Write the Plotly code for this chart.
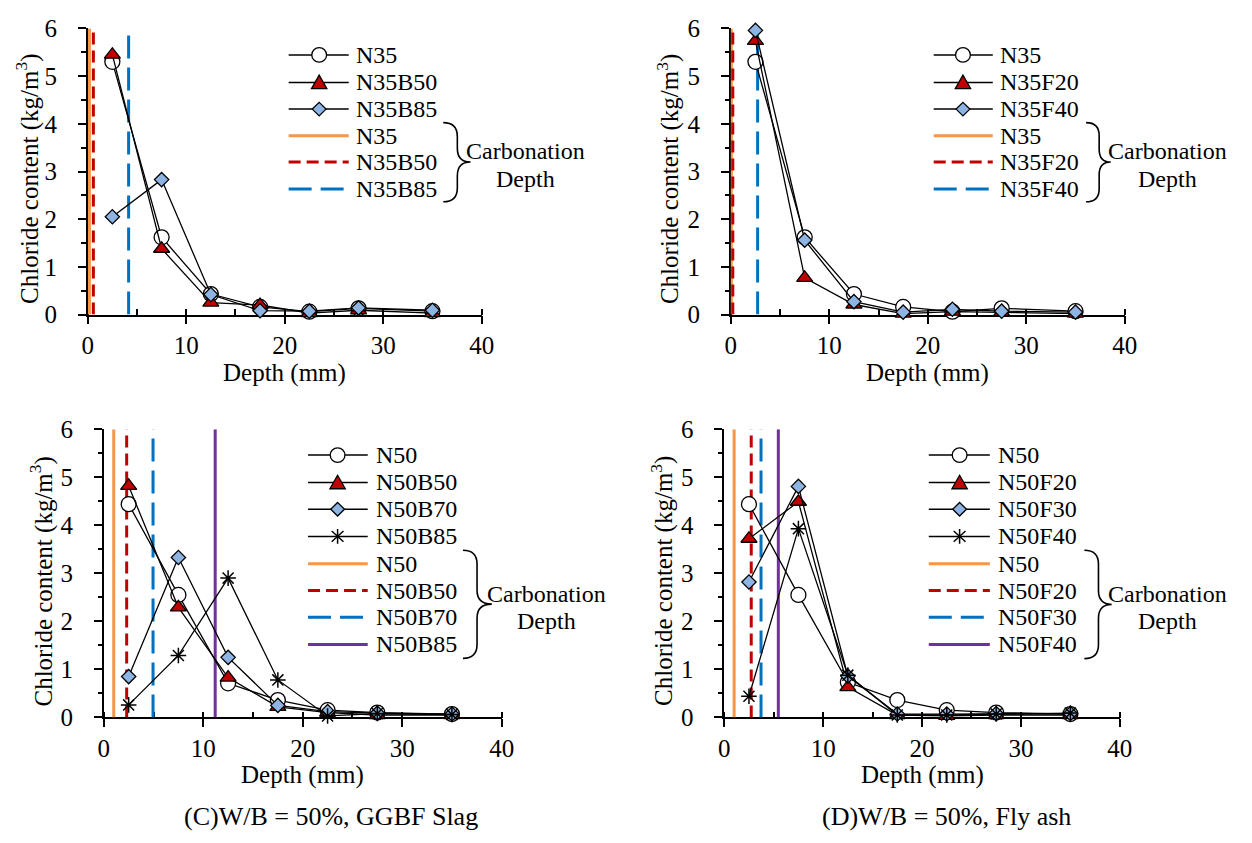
import plotly.graph_objects as go

W, H = 1252, 843
FONT = "Liberation Serif, Times New Roman, serif"

# ---------------- data ----------------
depth = [2.5, 7.5, 12.5, 17.5, 22.5, 27.5, 35.0]

# (A) W/B = 35%, slag
a_N35 = [5.30, 1.62, 0.43, 0.16, 0.06, 0.13, 0.07]
a_N35B50 = [5.45, 1.38, 0.25, 0.20, 0.03, 0.09, 0.03]
a_N35B85 = [2.05, 2.83, 0.42, 0.08, 0.07, 0.14, 0.09]
a_carb = [0.17, 0.57, 4.15]

# (B) W/B = 35%, fly ash
b_N35 = [5.30, 1.62, 0.43, 0.16, 0.06, 0.13, 0.07]
b_N35F20 = [5.74, 0.77, 0.21, 0.02, 0.06, 0.05, 0.02]
b_N35F40 = [5.96, 1.56, 0.27, 0.05, 0.11, 0.07, 0.05]
b_carb = [0.05, 0.2, 2.72]

# (C) W/B = 50%, GGBF slag
c_N50 = [4.44, 2.55, 0.71, 0.36, 0.15, 0.10, 0.07]
c_N50B50 = [4.82, 2.29, 0.83, 0.22, 0.10, 0.05, 0.05]
c_N50B70 = [0.85, 3.33, 1.25, 0.25, 0.12, 0.09, 0.07]
c_N50B85 = [0.26, 1.29, 2.90, 0.78, 0.03, 0.08, 0.06]
c_carb = [1.0, 2.3, 4.95, 11.2]

# (D) W/B = 50%, fly ash
d_N50 = [4.44, 2.55, 0.73, 0.36, 0.15, 0.10, 0.07]
d_N50F20 = [3.72, 4.49, 0.63, 0.05, 0.03, 0.05, 0.05]
d_N50F30 = [2.82, 4.81, 0.86, 0.07, 0.07, 0.08, 0.08]
d_N50F40 = [0.44, 3.93, 0.88, 0.05, 0.05, 0.07, 0.09]
d_carb = [1.0, 2.73, 3.72, 5.47]

a_names = ["N35", "N35B50", "N35B85"]
b_names = ["N35", "N35F20", "N35F40"]
c_names = ["N50", "N50B50", "N50B70", "N50B85"]
d_names = ["N50", "N50F20", "N50F30", "N50F40"]

x_ticks = [0, 10, 20, 30, 40]
y_ticks = [0, 1, 2, 3, 4, 5, 6]

captions = ["", "", "(C)W/B = 50%, GGBF Slag", "(D)W/B = 50%, Fly ash"]

# ---------------- styles ----------------
RED = "#C00000"
BLUE_FILL = "#8EB4E3"
ORANGE = "#F79646"
BLUE = "#0070C0"
PURPLE = "#7030A0"

series_style = [
    dict(kind="circle", symbol="circle", size=15, color="white"),
    dict(kind="triangle", symbol="triangle-up", size=14, color=RED),
    dict(kind="diamond", symbol="diamond", size=11, color=BLUE_FILL),
    dict(kind="asterisk", symbol="asterisk-open", size=13, color="black"),
]
carb_style = [
    dict(color=ORANGE, dash="solid"),
    dict(color=RED, dash="12px,6px"),
    dict(color=BLUE, dash="23px,9px"),
    dict(color=PURPLE, dash="solid"),
]


def px(x):
    return x / W


def py(y):
    return 1 - y / H


panels = [
    dict(series=[a_N35, a_N35B50, a_N35B85], names=a_names, carb=a_carb,
         xd=(83, 483), yd=(16, 311.5),
         leg=dict(l0=287, l1=348, mx=318, tx=353, rows=[43.3, 71.7, 99.3, 126.7, 154, 181.7],
                  bx=(444, 458.3, 471.7), by=(113.3, 195, 154), ct=(527, 143, 171))),
    dict(series=[b_N35, b_N35F20, b_N35F40], names=b_names, carb=b_carb,
         xd=(736, 1136), yd=(16, 311.5),
         leg=dict(l0=942, l1=1002, mx=971.7, tx=1007, rows=[43.3, 71.7, 99.3, 126.7, 154, 181.7],
                  bx=(1096.7, 1110, 1121.7), by=(113.3, 195, 154), ct=(1179, 143, 171))),
    dict(series=[c_N50, c_N50B50, c_N50B70, c_N50B85], names=c_names, carb=c_carb,
         xd=(99.3, 503.3), yd=(430, 727.7),
         leg=dict(l0=306.7, l1=367.3, mx=336.7, tx=374,
                  rows=[456.7, 485, 512.7, 540.7, 569, 596.7, 624.3, 652.3],
                  bx=(464, 478.3, 493.3), by=(555, 666.7, 610.7), ct=(549, 600, 628.5))),
    dict(series=[d_N50, d_N50F20, d_N50F30, d_N50F40], names=d_names, carb=d_carb,
         xd=(729.3, 1131), yd=(430, 727.7),
         leg=dict(l0=937, l1=999, mx=968.3, tx=1005,
                  rows=[456.7, 485, 512.7, 540.7, 569, 596.7, 624.3, 652.3],
                  bx=(1095, 1109.3, 1122.7), by=(555, 667, 611), ct=(1179, 600, 628.5))),
]

fig = go.Figure()
shapes = []
annotations = []
layout_axes = {}


def P(x, y):
    return f"{px(x):.5f},{py(y):.5f}"


def marker_shape(kind, cx, cy, fill):
    base = dict(xref="paper", yref="paper", layer="above")
    if kind == "circle":
        r = 7.5
        return [dict(type="circle", x0=px(cx - r), x1=px(cx + r), y0=py(cy + r), y1=py(cy - r),
                     fillcolor="white", line=dict(color="black", width=1.3), **base)]
    if kind == "triangle":
        path = f"M{P(cx, cy - 7.5)} L{P(cx + 7.8, cy + 6.5)} L{P(cx - 7.8, cy + 6.5)} Z"
        return [dict(type="path", path=path, fillcolor=fill, line=dict(color="black", width=1.3), **base)]
    if kind == "diamond":
        r = 7
        path = f"M{P(cx, cy - r)} L{P(cx + r, cy)} L{P(cx, cy + r)} L{P(cx - r, cy)} Z"
        return [dict(type="path", path=path, fillcolor=fill, line=dict(color="black", width=1.3), **base)]
    # asterisk
    path = (f"M{P(cx, cy - 7.5)} L{P(cx, cy + 7.5)} "
            f"M{P(cx - 6, cy - 5.5)} L{P(cx + 6, cy + 5.5)} "
            f"M{P(cx - 6, cy + 5.5)} L{P(cx + 6, cy - 5.5)}")
    return [dict(type="path", path=path, line=dict(color="black", width=1.5), **base)]


for i, p in enumerate(panels):
    k = "" if i == 0 else str(i + 1)
    xa, ya = "x" + k, "y" + k

    # carbonation depth lines
    for j, d in enumerate(p["carb"]):
        st = carb_style[j]
        fig.add_trace(go.Scatter(
            x=[d, d], y=[0, 6], mode="lines", xaxis=xa, yaxis=ya, showlegend=False,
            cliponaxis=False,
            line=dict(color=st["color"], width=3, dash=st["dash"]), hoverinfo="skip"))

    # chloride series
    for j, vals in enumerate(p["series"]):
        st = series_style[j]
        mk = dict(symbol=st["symbol"], size=st["size"], color=st["color"],
                  line=dict(color="black", width=1.3))
        if st["kind"] == "asterisk":
            mk = dict(symbol=st["symbol"], size=st["size"], color="black",
                      line=dict(color="black", width=1.5))
        fig.add_trace(go.Scatter(
            x=depth, y=vals, mode="lines+markers", xaxis=xa, yaxis=ya, name=p["names"][j],
            showlegend=False, cliponaxis=False,
            line=dict(color="black", width=1.3), marker=mk))

    x0, x1 = p["xd"]
    y0, y1 = p["yd"]
    layout_axes["xaxis" + k] = dict(
        domain=[px(x0), px(x1)], range=[0, 40], anchor=ya, layer="below traces",
        tickvals=x_ticks, ticks="outside", ticklen=8, tickwidth=1.5, tickcolor="black",
        showline=True, linecolor="black", linewidth=1.5, showgrid=False, zeroline=False,
        tickfont=dict(family=FONT, size=25, color="black"), ticklabelstandoff=0,
        minor=dict(ticks="inside", ticklen=6, dtick=5, tick0=0, tickwidth=1.5,
                   tickcolor="black", showgrid=False),
        fixedrange=True)
    layout_axes["yaxis" + k] = dict(
        domain=[py(y1), py(y0)], range=[0, 6], anchor=xa, layer="below traces",
        tickvals=y_ticks, ticks="outside", ticklen=8, tickwidth=1.5, tickcolor="black",
        showline=True, linecolor="black", linewidth=1.5, showgrid=False, zeroline=False,
        tickfont=dict(family=FONT, size=25, color="black"), ticklabelstandoff=16,
        minor=dict(ticks="outside", ticklen=4.5, dtick=0.5, tick0=0, tickwidth=1.5,
                   tickcolor="black", showgrid=False),
        fixedrange=True)

    # axis titles
    xc = (x0 + x1) / 2
    annotations.append(dict(text="Depth (mm)", x=px(xc), y=py(y1 + 60), xref="paper", yref="paper",
                            xanchor="center", yanchor="middle", showarrow=False,
                            font=dict(family=FONT, size=25, color="black")))
    ytx = [22, 672, 36, 666][i]
    annotations.append(dict(text="Chloride content (kg/m<sup>3</sup>)", x=px(ytx),
                            y=py((y0 + y1) / 2 + 8), xref="paper", yref="paper", textangle=-90,
                            xanchor="center", yanchor="middle", showarrow=False,
                            font=dict(family=FONT, size=25, color="black")))
    if captions[i]:
        cx = [0, 0, 330, 955][i]
        annotations.append(dict(text=captions[i], x=px(cx), y=py(830), xref="paper", yref="paper",
                                xanchor="center", yanchor="middle", showarrow=False,
                                font=dict(family=FONT, size=26, color="black")))

    # manual legend
    lg = p["leg"]
    n = len(p["series"])
    labels = p["names"] + p["names"]
    for r, yy in enumerate(lg["rows"]):
        if r < n:
            shapes.append(dict(type="line", xref="paper", yref="paper", x0=px(lg["l0"]), x1=px(lg["l1"]),
                               y0=py(yy), y1=py(yy), line=dict(color="black", width=1.5), layer="above"))
            st = series_style[r]
            shapes.extend(marker_shape(st["kind"], lg["mx"], yy, st["color"]))
        else:
            st = carb_style[r - n]
            shapes.append(dict(type="line", xref="paper", yref="paper", x0=px(lg["l0"]), x1=px(lg["l1"]),
                               y0=py(yy), y1=py(yy), line=dict(color=st["color"], width=3, dash=st["dash"]),
                               layer="above"))
        annotations.append(dict(text=labels[r], x=px(lg["tx"]), y=py(yy), xref="paper", yref="paper",
                                xanchor="left", yanchor="middle", showarrow=False,
                                font=dict(family=FONT, size=24, color="black")))
    bt, bv, bc = lg["bx"]
    ytop, ybot, ymid = lg["by"]
    rr = bv - bt
    path = (f"M{P(bt, ytop)} Q{P(bv, ytop)} {P(bv, ytop + rr)} L{P(bv, ymid - rr)} "
            f"Q{P(bv, ymid)} {P(bc, ymid)} Q{P(bv, ymid)} {P(bv, ymid + rr)} "
            f"L{P(bv, ybot - rr)} Q{P(bv, ybot)} {P(bt, ybot)}")
    shapes.append(dict(type="path", path=path, xref="paper", yref="paper",
                       line=dict(color="black", width=1.6), layer="above"))
    ctx, cty1, cty2 = lg["ct"]
    annotations.append(dict(text="Carbonation", x=px(ctx), y=py(cty1), xref="paper", yref="paper",
                            xanchor="center", yanchor="middle", showarrow=False,
                            font=dict(family=FONT, size=24, color="black")))
    annotations.append(dict(text="Depth", x=px(ctx), y=py(cty2), xref="paper", yref="paper",
                            xanchor="center", yanchor="middle", showarrow=False,
                            font=dict(family=FONT, size=24, color="black")))

fig.update_layout(
    width=W, height=H, margin=dict(l=0, r=0, t=0, b=0),
    paper_bgcolor="white", plot_bgcolor="white", showlegend=False,
    font=dict(family=FONT, size=24, color="black"),
    shapes=shapes, annotations=annotations, **layout_axes)

fig.write_html("out.html", config={"displayModeBar": False},
               post_script="document.body.style.margin='0';document.body.style.overflow='hidden';")
